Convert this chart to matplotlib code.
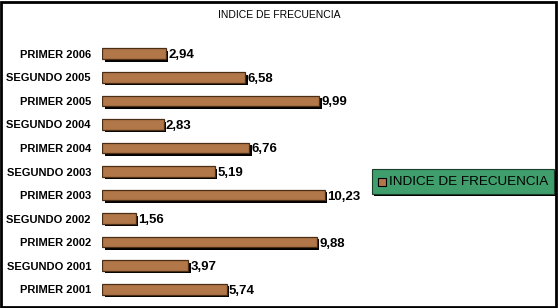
import matplotlib
matplotlib.use("Agg")
import matplotlib.pyplot as plt
import matplotlib.patheffects as pe
from matplotlib.patches import Rectangle

periods = ["PRIMER 2001", "SEGUNDO 2001", "PRIMER 2002", "SEGUNDO 2002", "PRIMER 2003",
           "SEGUNDO 2003", "PRIMER 2004", "SEGUNDO 2004", "PRIMER 2005", "SEGUNDO 2005",
           "PRIMER 2006"]
values = [5.74, 3.97, 9.88, 1.56, 10.23, 5.19, 6.76, 2.83, 9.99, 6.58, 2.94]
labels = ["5,74", "3,97", "9,88", "1,56", "10,23", "5,19", "6,76", "2,83", "9,99", "6,58", "2,94"]

plt.rcParams['font.family'] = ['Liberation Sans', 'DejaVu Sans']

fig = plt.figure(figsize=(5.58, 3.08), dpi=100)
fig.patch.set_facecolor("white")
fig.add_artist(Rectangle((0.002, 0.003), 0.995, 0.992, transform=fig.transFigure,
                         fill=False, lw=2, ec="black"))
fig.text(0.5, 0.95, "INDICE DE FRECUENCIA", ha="center", va="center", fontsize=7.5)

ax = fig.add_axes([102/558, 1 - 301/308, 261/558, 259/308])
ypos = range(len(values))
shadow = [pe.SimplePatchShadow(offset=(1.8, -1.8), shadow_rgbFace="black", alpha=1), pe.Normal()]
bars = ax.barh(ypos, values, height=0.45, color="#b27748", edgecolor="#4a2e16", lw=0.9,
               path_effects=shadow)
for y, v, t in zip(ypos, values, labels):
    ax.text(v + 0.1, y, t, va="center_baseline", ha="left", fontsize=9.5, fontweight="bold")
ax.set_xlim(0, 12)
ax.set_ylim(-0.5, len(values) - 0.5)
ax.set_yticks(list(ypos))
ax.set_yticklabels(periods, fontsize=8, fontweight="bold")
ax.tick_params(axis="y", length=0, pad=8)
ax.set_xticks([])
for s in ax.spines.values():
    s.set_visible(False)
ax.patch.set_alpha(0)

# legend box
lx, ly, lw_, lh = 372/558, 1 - 194/308, 182/558, 25/308
fig.add_artist(Rectangle((lx + 2/558, ly - 2/308), lw_, lh, transform=fig.transFigure,
                         fc="black", ec="none"))
fig.add_artist(Rectangle((lx, ly), lw_, lh, transform=fig.transFigure,
                         fc="#3f9e6c", ec="#1a3d2a", lw=0.8))
fig.add_artist(Rectangle((378/558, 1 - 186/308), 8/558, 8/308, transform=fig.transFigure,
                         fc="#b27748", ec="black", lw=0.8))
fig.text(389/558, 1 - 182/308, "INDICE DE FRECUENCIA", va="center", ha="left", fontsize=9.7)

fig.savefig("out.png", dpi=100)
